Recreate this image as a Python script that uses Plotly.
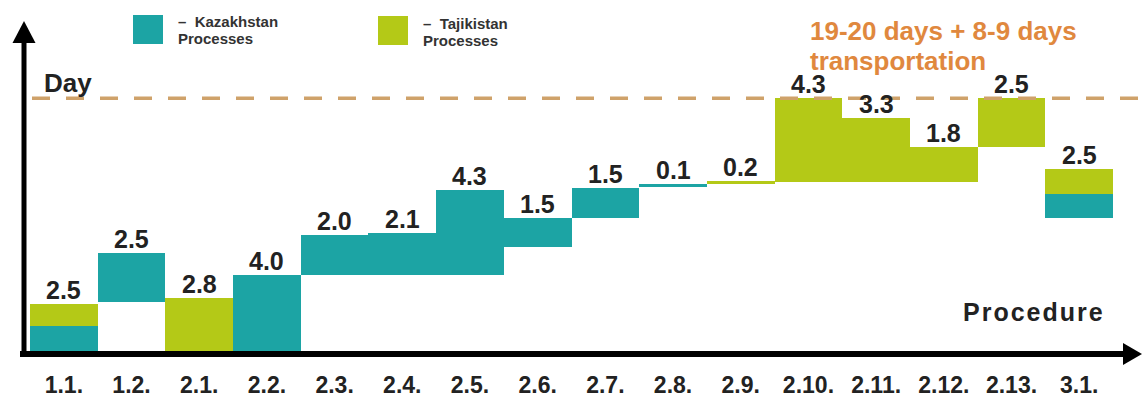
import plotly.graph_objects as go

# Procedures along the horizontal axis
procedures = ["1.1.", "1.2.", "2.1.", "2.2.", "2.3.", "2.4.", "2.5.", "2.6.",
              "2.7.", "2.8.", "2.9.", "2.10.", "2.11.", "2.12.", "2.13.", "3.1."]

# Day on which each procedure starts
start_day = [0.0, 2.6, 0.0, 0.0, 4.0, 4.0, 4.0, 5.4,
             6.9, 8.5, 8.6, 8.7, 8.7, 8.7, 10.5, 6.9]

# Duration (days) handled on each side of the border
kazakhstan_days = [1.4, 2.5, 0.0, 4.0, 2.0, 2.1, 4.3, 1.5,
                   1.5, 0.1, 0.0, 0.0, 0.0, 0.0, 0.0, 1.2]
tajikistan_days = [1.1, 0.0, 2.8, 0.0, 0.0, 0.0, 0.0, 0.0,
                   0.0, 0.0, 0.2, 4.3, 3.3, 1.8, 2.5, 1.3]

# Overall time line
deadline_day = 13.0

KZ_COLOR = "#1ca4a4"
TJ_COLOR = "#b4c917"
TEXT = "#222222"
ORANGE = "#e0883e"
DASH = "#cfa26a"
FONT = "Liberation Sans, Arial, sans-serif"

W, H = 1142, 398
BOTTOM = 45                 # room for the procedure labels
PLOT_H = H - BOTTOM
PX_PER_DAY = 19.6
COL0, COL_W = 30.0, 67.69   # first column edge and column width (px)


def fx(px):
    return px / W


def fy(py):
    return (PLOT_H - py) / PLOT_H


fig = go.Figure()

kz_base = start_day
tj_base = [s + k for s, k in zip(start_day, kazakhstan_days)]

fig.add_bar(x=procedures, y=[v if v else None for v in kazakhstan_days],
            base=kz_base, width=1, marker=dict(color=KZ_COLOR, line=dict(width=0)),
            name="Kazakhstan Processes", showlegend=False)
fig.add_bar(x=procedures, y=[v if v else None for v in tajikistan_days],
            base=tj_base, width=1, marker=dict(color=TJ_COLOR, line=dict(width=0)),
            name="Tajikistan Processes", showlegend=False)

annotations = []

# Duration label above every procedure
for p, s, k, t in zip(procedures, start_day, kazakhstan_days, tajikistan_days):
    total = k + t
    annotations.append(dict(
        x=p, y=s + total, xref="x", yref="y", text=f"{total:.1f}",
        showarrow=False, yanchor="bottom", xanchor="center", yshift=-2,
        font=dict(family=FONT, size=25, color=TEXT, weight="bold")))

# Axis titles
annotations.append(dict(x=fx(42), y=fy(83), xref="paper", yref="paper", text="Day",
                        showarrow=False, xanchor="left", yanchor="middle",
                        font=dict(family=FONT, size=26, color=TEXT, weight="bold")))
annotations.append(dict(x=fx(1107), y=fy(312), xref="paper", yref="paper",
                        text='<span style="letter-spacing:2px">Procedure</span>',
                        showarrow=False, xanchor="right", yanchor="middle",
                        font=dict(family=FONT, size=25, color=TEXT, weight="bold")))

# Total duration note
annotations.append(dict(x=fx(808), y=fy(31), xref="paper", yref="paper",
                        text="19-20 days + 8-9 days", showarrow=False,
                        xanchor="left", yanchor="middle",
                        font=dict(family=FONT, size=26, color=ORANGE, weight="bold")))
annotations.append(dict(x=fx(808), y=fy(61), xref="paper", yref="paper",
                        text="transportation", showarrow=False,
                        xanchor="left", yanchor="middle",
                        font=dict(family=FONT, size=26, color=ORANGE, weight="bold")))

# Legend keys
shapes = []
legend_items = [(133, 15, KZ_COLOR, "–  Kazakhstan"), (378, 16, TJ_COLOR, "–  Tajikistan")]
for x0, y0, col, label in legend_items:
    shapes.append(dict(type="rect", xref="paper", yref="paper",
                       x0=fx(x0), x1=fx(x0 + 30), y0=fy(y0), y1=fy(y0 + 29),
                       fillcolor=col, line=dict(width=0)))
    annotations.append(dict(x=fx(x0 + 43), y=fy(y0 + 7), xref="paper", yref="paper",
                            text=label, showarrow=False, xanchor="left", yanchor="middle",
                            font=dict(family=FONT, size=15, color="#333333", weight="bold")))
    annotations.append(dict(x=fx(x0 + 43), y=fy(y0 + 24), xref="paper", yref="paper",
                            text="Processes", showarrow=False, xanchor="left", yanchor="middle",
                            font=dict(family=FONT, size=15, color="#333333", weight="bold")))

# Dashed time line
shapes.append(dict(type="line", xref="paper", yref="y", x0=fx(32), x1=1.0,
                   y0=deadline_day, y1=deadline_day,
                   line=dict(color=DASH, width=3.5, dash="18px,16px")))

# Axis arrows
AX = 24
AY = 354
shapes.append(dict(type="line", xref="paper", yref="paper",
                   x0=fx(AX), x1=fx(AX), y0=fy(AY + 3), y1=fy(40),
                   line=dict(color="black", width=5)))
shapes.append(dict(type="path", xref="paper", yref="paper",
                   path=f"M {fx(AX)} {fy(21)} L {fx(AX - 11.5)} {fy(43)} "
                        f"L {fx(AX + 11.5)} {fy(43)} Z",
                   fillcolor="black", line=dict(width=0)))
shapes.append(dict(type="line", xref="paper", yref="paper",
                   x0=fx(20), x1=fx(1126), y0=fy(AY), y1=fy(AY),
                   line=dict(color="black", width=6)))
shapes.append(dict(type="path", xref="paper", yref="paper",
                   path=f"M {fx(1142)} {fy(AY)} L {fx(1123)} {fy(AY - 11)} "
                        f"L {fx(1123)} {fy(AY + 11)} Z",
                   fillcolor="black", line=dict(width=0)))

x_lo = -COL0 / COL_W - 0.5
x_hi = (W - COL0) / COL_W - 0.5

fig.update_layout(
    width=W, height=H,
    margin=dict(l=0, r=0, t=0, b=BOTTOM),
    paper_bgcolor="white", plot_bgcolor="white",
    barmode="overlay", bargap=0,
    showlegend=False,
    annotations=annotations, shapes=shapes,
    xaxis=dict(type="category", range=[x_lo, x_hi], showgrid=False, zeroline=False,
               showline=False, ticks="", ticklabelstandoff=16,
               tickfont=dict(family=FONT, size=23, color=TEXT, weight="bold")),
    yaxis=dict(range=[0, PLOT_H / PX_PER_DAY], visible=False),
)

fig.write_html("out.html")
